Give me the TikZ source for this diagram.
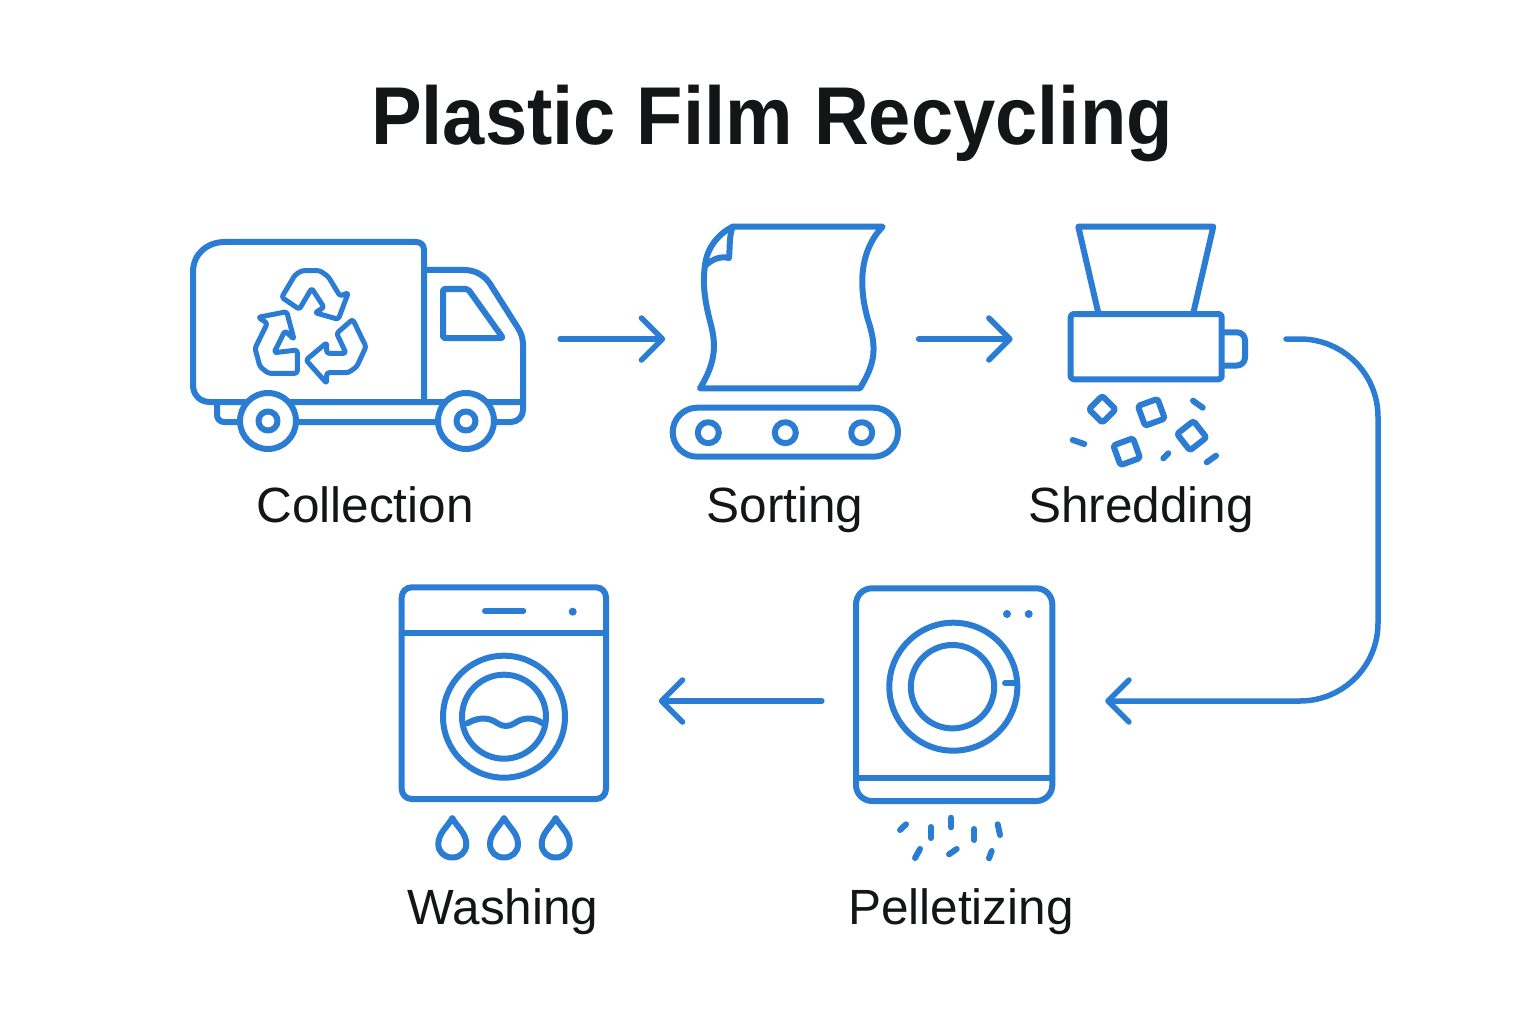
\documentclass[tikz,border=0pt]{standalone}
\usepackage{fontspec}
\setmainfont{Liberation Sans}
\newfontfamily\headfont[FakeStretch=0.926]{Liberation Sans}
\usetikzlibrary{arrows.meta, positioning}
\definecolor{iconblue}{HTML}{2B7CD3}
\definecolor{inkblack}{HTML}{131517}
\tikzset{%
    linesty/.style={
        draw=iconblue,
        line width=6pt,
        line join=round,
        line cap=round,
    },
    framesty/.style={
        inner sep=0pt,
        minimum height=230pt,
    },
    flowsty/.style={
        linesty,
        line width=5.5pt,
        -{Straight Barb[length=21pt,width=42pt,line width=5.5pt,round]},
    },
    titlesty/.style={
        inner sep=0pt,
        anchor=base,
        font=\fontsize{82}{82}\selectfont\headfont\bfseries,
        text=inkblack,
    },
    labelsty/.style={
        inner sep=0pt,
        anchor=base,
        font=\fontsize{49.5}{49.5}\selectfont,
        text=inkblack,
    },
    wheelsty/.style={
        linesty,
        fill=white,
    },
}

\begin{document}
\begin{tikzpicture}[x=1pt,y=-1pt]
\useasboundingbox [fill=white] (0,0) rectangle (1536,1024);

\node (title) [titlesty] at (772,145) {Plastic Film Recycling};

% frames of the five stages, arrows run between them
\node (collection) [framesty,minimum width=380pt] at (370,339) {};
\node (sorting) [framesty,minimum width=253pt,right=105pt of collection] {};
\node (shredding) [framesty,minimum width=273pt,right=94pt of sorting] {};
\node (pelletizing) [framesty,minimum width=283pt] at (963.5,701) {};
\node (washing) [framesty,minimum width=309pt,left=163pt of pelletizing] {};
\coordinate (bend) at (1378,520);

\draw [flowsty] (collection) -- (sorting);
\draw [flowsty] (sorting) -- (shredding);
\draw [flowsty,rounded corners=78pt] (shredding.east) -| (bend) |- (pelletizing.east);
\draw [flowsty] (pelletizing) -- (washing);

% truck
\draw [linesty,rounded corners=7pt] (217,402) -- (217,422) -- (250,422) -- (480,422);
\draw [linesty,rounded corners=12pt] (480,422) -- (523,422) -- (523,402);
\draw [linesty] (210,402) .. controls (199,402) and (193,394) .. (193,385) -- (193,272)
      .. controls (193,254) and (207,242) .. (225,242) -- (416,242)
      .. controls (421,242) and (424,245) .. (424,250) -- (424,402);
\draw [linesty] (210,402) -- (523,402) -- (523,345)
      .. controls (523,338) and (521,333) .. (518,328) -- (492,287)
      .. controls (486,276) and (476,270) .. (464,270) -- (424,270);
\draw [linesty,rounded corners=2pt] (443,289) -- (468,289) -- (503,338) -- (443,338) -- cycle;
\foreach \wx in {268,466} {
    \draw [wheelsty] (\wx,421) circle (28);
    \draw [linesty] (\wx,421) circle (9.5);
}

% recycling mark
\draw [linesty,line width=5pt,rounded corners=2.5pt]
      (281.7,297.3) -- (295,275) -- (301.7,270.7) -- (320,270.7) -- (328.3,276.7) -- (340,296)
      -- (348.3,292.7) -- (338.3,319.3) -- (315,312.7) -- (324,307.3) -- (311.7,288.3) -- (299.3,309.3) -- cycle;
\draw [linesty,line width=5pt,rounded corners=2.5pt]
      (258.3,317.3) -- (286.7,311.7) -- (294,339.3) -- (285,330.7) -- (274,352.7) -- (297.3,350)
      -- (297.3,373.3) -- (268.3,373.3) -- (260,366.7) -- (255,348.3) -- (267.3,323.3) -- cycle;
\draw [linesty,line width=5pt,rounded corners=2.5pt]
      (352.7,319.3) -- (366,346.7) -- (356.7,366.7) -- (348.3,372.7) -- (326.7,372.7) -- (326.7,383.3)
      -- (306,360) -- (326.7,342.7) -- (326.7,353.3) -- (346,353.3) -- (336.7,333.3) -- cycle;

% film on the belt
\draw [linesty] (732.7,226.7) -- (882.7,226.7)
      .. controls (860,250) and (858,285) .. (868,320)
      .. controls (878,350) and (874,365) .. (860,388.3) -- (700,388.3)
      .. controls (716,362) and (716,345) .. (711,325)
      .. controls (703,295) and (703,280) .. (705,265)
      .. controls (707,248) and (718,234) .. (732.7,226.7);
\draw [linesty] (732.7,226.7) .. controls (729,236) and (730,248) .. (729,258)
      .. controls (720,256) and (713,259) .. (706,265);
\draw [linesty,rounded corners=24.5pt] (672.7,407.7) rectangle (898,456.7);
\foreach \rx in {708.3,785.3,861.7} {
    \draw [linesty] (\rx,432.7) circle (10.5);
}

% shredder
\draw [linesty] (1098.3,313) -- (1078.3,226.7) -- (1213.3,226.7) -- (1193.3,313);
\draw [linesty,rounded corners=3pt] (1070.7,314) rectangle (1221.7,379.3);
\draw [linesty,rounded corners=8pt] (1222,332.3) -- (1245,332.3) -- (1245,365.5) -- (1222,365.5);
\foreach \cx/\cy/\ca/\cs in {1102.3/409.3/45/9.5, 1151.3/412.3/20/10.5, 1191.7/435.7/38/10.5, 1126.7/451.7/20/10.5} {
    \draw [linesty,rounded corners=2.5pt,rotate around={\ca:(\cx,\cy)}]
          (\cx-\cs,\cy-\cs) rectangle (\cx+\cs,\cy+\cs);
}
\draw [linesty] (1193,400.7) -- (1202.7,407.7);
\draw [linesty] (1072.7,440) -- (1084.3,444);
\draw [linesty] (1163.3,458.3) -- (1168.3,453.3);
\draw [linesty] (1206.7,462.3) -- (1216,455.7);

% washer
\draw [linesty,rounded corners=10pt] (401.7,587.3) rectangle (606,799);
\draw [linesty] (401.7,632.7) -- (606,632.7);
\draw [linesty] (485,610.7) -- (523.3,610.7);
\fill [iconblue] (572.7,611.7) circle (4);
\draw [linesty] (504,716.7) circle (61);
\draw [linesty] (504,716.7) circle (42);
\draw [linesty] (467.3,723.3) .. controls (480,716) and (490,718) .. (497,723)
      .. controls (503,727) and (509,727) .. (515,723)
      .. controls (522,718) and (532,716) .. (542.7,723.3);
\foreach \dx in {452.3,504,555.7} {
    \draw [linesty] (\dx,818) .. controls (\dx-4,826) and (\dx-14,833) .. (\dx-14,844)
          .. controls (\dx-14,852) and (\dx-8,857.5) .. (\dx,857.5)
          .. controls (\dx+8,857.5) and (\dx+14,852) .. (\dx+14,844)
          .. controls (\dx+14,833) and (\dx+4,826) .. (\dx,818) -- cycle;
}

% pelletizer
\draw [linesty,rounded corners=16pt] (856,588.3) rectangle (1052.3,801);
\draw [linesty] (856,778.3) -- (1052.3,778.3);
\fill [iconblue] (1007,614) circle (4) (1028.7,614) circle (4);
\draw [linesty] (953.3,686.7) circle (64);
\draw [linesty] (952.5,686.7) circle (41.7);
\draw [linesty] (1005,683.3) -- (1016.7,683.3);
\foreach \ax/\ay/\bx/\by in {900/830/906/824.3, 930.7/827/930.7/838, 951/817.7/951/827.3,
      974.3/829/974.3/840, 997.7/824.3/1000/835, 920/849/915/858, 956.7/849/949/854.3, 991.7/851/989/858.3} {
    \draw [linesty] (\ax,\ay) -- (\bx,\by);
}

% stage names
\node (collectionname) [labelsty] at (365,522) {Collection};
\node (sortingname) [labelsty] at (785,522) {Sorting};
\node (shreddingname) [labelsty] at (1141,522) {Shredding};
\node (washingname) [labelsty] at (503,924) {Washing};
\node (pelletizingname) [labelsty] at (961,924) {Pelletizing};

\end{tikzpicture}
\end{document}
